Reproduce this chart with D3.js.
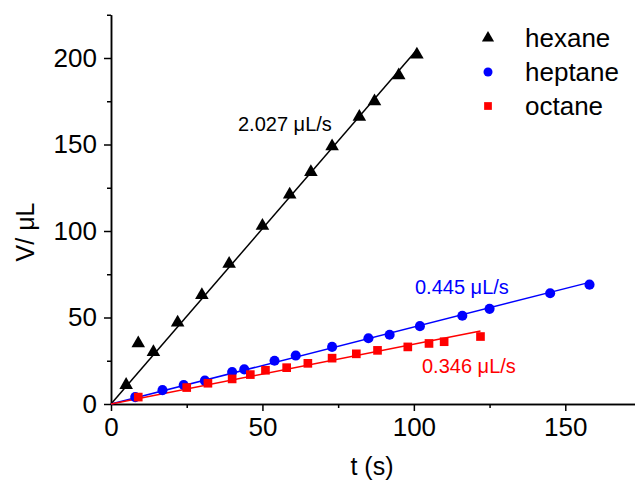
<!DOCTYPE html>
<html>
<head>
<meta charset="utf-8">
<script src="https://cdn.jsdelivr.net/npm/d3@7"></script>
<style>
  body { margin: 0; background: #fff; }
  text { font-family: "Liberation Sans", Arial, sans-serif; }
</style>
</head>
<body>
<script>
// data
var hexaneT = [5, 9, 14, 22, 30, 39, 50, 59, 66, 73, 82, 87, 95, 101];
var hexaneV = [11, 35, 30, 47, 63, 81, 103, 121, 134, 149, 166, 175, 190, 202];
var heptaneT = [8, 17, 24, 31, 40, 44, 54, 61, 73, 85, 92, 102, 116, 125, 145, 158];
var heptaneV = [4, 8, 11, 13.5, 18.5, 20, 25, 28, 33, 38, 40, 45, 51, 55, 64, 69];
var octaneT = [9, 25, 32, 40, 46, 51, 58, 65, 73, 81, 88, 98, 105, 110, 122];
var octaneV = [4, 9.5, 12, 14.5, 17, 19.5, 21, 23.5, 26.5, 29, 31, 33, 35, 36, 39];
var slopes = [2.027, 0.445, 0.346];
var fitEnd = [101, 158, 122];
var names = ["hexane", "heptane", "octane"];
var colors = ["#000000", "#0000ff", "#ff0000"];
var majorX = [0, 50, 100, 150];
var minorX = [25, 75, 125, 175];
var majorY = [0, 50, 100, 150, 200];
var minorY = [25, 75, 125, 175, 225];

var w = 635;
var h = 484;

var svg = d3.select("body").append("svg")
    .attr("width", w)
    .attr("height", h);

var x = d3.scaleLinear().domain([0, 175]).range([111, 641]);
var y = d3.scaleLinear().domain([0, 225]).range([404, 14.75]);

// axes
svg.append("g").attr("transform", "translate(0," + y(0) + ")")
    .call(d3.axisBottom(x).tickValues(majorX).tickSize(7).tickSizeOuter(0).tickPadding(7));
svg.append("g").attr("transform", "translate(0," + y(0) + ")")
    .call(d3.axisBottom(x).tickValues(minorX).tickSize(4).tickSizeOuter(0).tickFormat(""));
svg.append("g").attr("transform", "translate(" + x(0) + ",0)")
    .call(d3.axisLeft(y).tickValues(majorY).tickSize(7).tickSizeOuter(0).tickPadding(7));
svg.append("g").attr("transform", "translate(" + x(0) + ",0)")
    .call(d3.axisLeft(y).tickValues(minorY).tickSize(4).tickSizeOuter(0).tickFormat(""));

svg.selectAll(".domain, .tick line").attr("stroke", "#000").attr("stroke-width", 1.5);
svg.selectAll(".tick text")
    .attr("font-size", "26px")
    .attr("fill", "#000")
    .style("font-family", "'Liberation Sans', Arial, sans-serif");

svg.append("text")
    .attr("x", 372)
    .attr("y", 475)
    .attr("text-anchor", "middle")
    .attr("font-size", "25px")
    .text("t (s)");

svg.append("text")
    .attr("transform", "translate(34,232) rotate(-90)")
    .attr("text-anchor", "middle")
    .attr("font-size", "25px")
    .text("V/ \u03bcL");

// fit lines
var series = [
    { t: hexaneT, v: hexaneV },
    { t: heptaneT, v: heptaneV },
    { t: octaneT, v: octaneV }
];

series.forEach(function(s, i) {
    svg.append("line")
        .attr("x1", x(0))
        .attr("y1", y(0))
        .attr("x2", x(fitEnd[i]))
        .attr("y2", y(fitEnd[i] * slopes[i]))
        .attr("stroke", colors[i])
        .attr("stroke-width", 1.5);
});

var symbols = [d3.symbolTriangle, d3.symbolCircle, d3.symbolSquare];
var sizes = [80, 80, 75];

series.forEach(function(s, i) {
    svg.selectAll(".pt" + i)
        .data(s.t)
        .enter()
        .append("path")
        .attr("class", "pt" + i)
        .attr("d", d3.symbol().type(symbols[i]).size(sizes[i]))
        .attr("transform", function(d, j) {
            return "translate(" + x(d) + "," + y(s.v[j]) + ")";
        })
        .attr("fill", colors[i]);
});

// rate labels
var rateLabels = [
    { x: 238, y: 131 },
    { x: 415, y: 294 },
    { x: 422, y: 373 }
];
rateLabels.forEach(function(p, i) {
    svg.append("text")
        .attr("x", p.x)
        .attr("y", p.y)
        .attr("font-size", "20px")
        .attr("fill", colors[i])
        .text(slopes[i].toFixed(3) + " \u03bcL/s");
});

// legend
var legend = svg.append("g");
names.forEach(function(n, i) {
    var ly = 38 + i * 34;
    legend.append("path")
        .attr("d", d3.symbol().type(symbols[i]).size(sizes[i] * 0.8))
        .attr("transform", "translate(488," + ly + ")")
        .attr("fill", colors[i]);
    legend.append("text")
        .attr("x", 525)
        .attr("y", ly + 9)
        .attr("font-size", "26px")
        .text(n);
});
</script>
</body>
</html>
